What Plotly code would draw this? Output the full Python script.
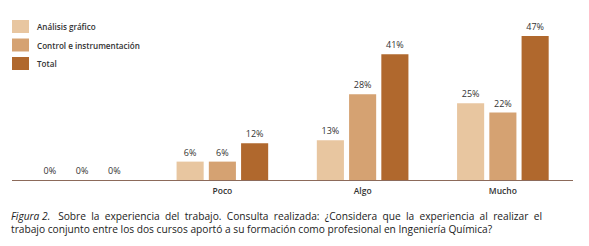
import plotly.graph_objects as go

categories = [" ", "Poco", "Algo", "Mucho"]
analisis_grafico = [0, 6, 13, 25]
control_instrumentacion = [0, 6, 28, 22]
total = [0, 12, 41, 47]
series_names = ["Análisis gráfico", "Control e instrumentación", "Total"]
colors = ["#E8C6A0", "#D5A272", "#B0682D"]

# The page body has an 8px default margin, so the figure is 8px smaller.
W, H = 581, 238
L, R, T, B = 4, 16, 12, 66
PH = H - T - B
PW = W - L - R


def px_x(x):  # figure pixel -> paper x
    return (x - L) / PW


def px_y(y):  # figure pixel -> paper y
    return (H - B - y) / PH


fig = go.Figure()
for name, vals, col in zip(series_names, [analisis_grafico, control_instrumentacion, total], colors):
    fig.add_trace(go.Bar(
        x=categories, y=vals, name=name, marker=dict(color=col, line=dict(width=0)),
        text=[f"{v}%" for v in vals], textposition="outside",
        textfont=dict(family="Open Sans", size=9, color="#333333"),
        cliponaxis=False, showlegend=False,
    ))

fig.update_layout(
    width=W, height=H,
    margin=dict(l=L, r=R, t=T, b=B),
    paper_bgcolor="white", plot_bgcolor="white",
    barmode="group", bargap=0.31, bargroupgap=0.16,
    showlegend=False,
    xaxis=dict(showline=True, linecolor="#8C6A5A", linewidth=1, ticks="",
               tickfont=dict(family="Open Sans", size=8.5, color="#333333", weight=600),
               ticklabelstandoff=3, showgrid=False, fixedrange=True),
    yaxis=dict(range=[0, 52.2], visible=False, showgrid=False),
    font=dict(family="Open Sans"),
)

# custom legend (screen coords minus 8px body margin)
for i, (name, col) in enumerate(zip(series_names, colors)):
    top = 12 + i * 18.5
    fig.add_shape(type="rect", xref="paper", yref="paper",
                  x0=px_x(4), x1=px_x(21), y0=px_y(top), y1=px_y(top + 13),
                  fillcolor=col, line=dict(width=0))
    fig.add_annotation(text=name, xref="paper", yref="paper", x=px_x(27), y=px_y(top + 6.5),
                       xanchor="left", yanchor="middle", showarrow=False,
                       font=dict(family="Open Sans", size=8.1, color="#333333", weight=600))

line1 = "<i>Figura 2.</i> Sobre la experiencia del trabajo. Consulta realizada: ¿Considera que la experiencia al realizar el"
line2 = "trabajo conjunto entre los dos cursos aportó a su formación como profesional en Ingeniería Química?"
line1_just = line1.replace("</i> ", "</i>\u00a0 ").replace(" ", "\u00a0 ").replace("<i>Figura\u00a0 2.", "<i>Figura 2.")
fig.add_annotation(text=line1_just + "<br>" + line2, xref="paper", yref="paper",
                   x=px_x(1), y=px_y(198.5), xanchor="left", yanchor="top", align="left",
                   showarrow=False, font=dict(family="Open Sans", size=10.2, color="#222222"))

fig.write_html("out.html")
